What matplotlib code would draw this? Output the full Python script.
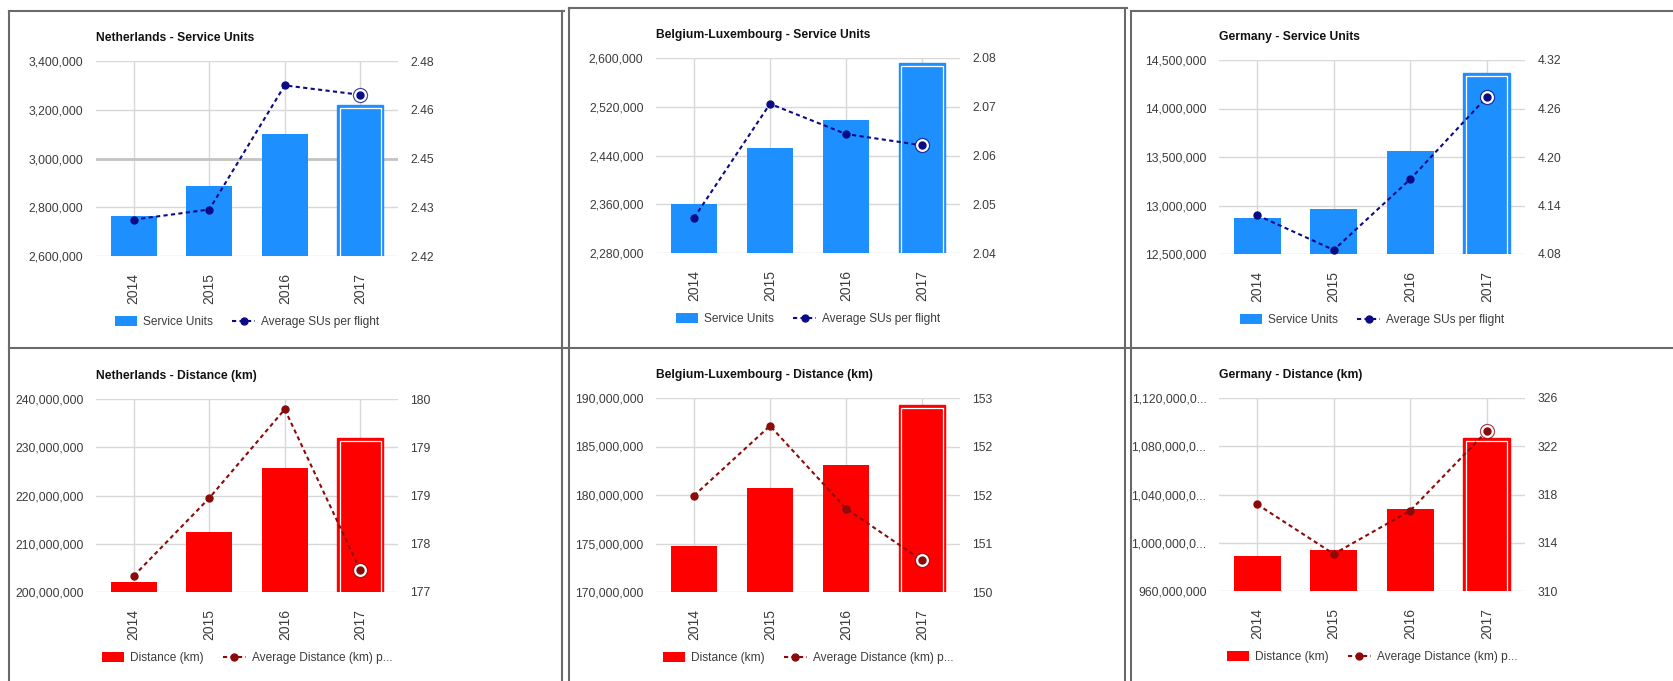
import numpy as np
import matplotlib
matplotlib.use('Agg')
import matplotlib.pyplot as plt
from matplotlib.lines import Line2D
from matplotlib.patches import Patch
from matplotlib import font_manager

W, H = 1673, 681

# values
years = ['2014', '2015', '2016', '2017']

nl_su = [2763000, 2888000, 3100000, 3218000]
nl_su_avg = [2.4312, 2.4343, 2.4725, 2.4696]
be_su = [2360000, 2453000, 2499000, 2592000]
be_su_avg = [2.0472, 2.0706, 2.0644, 2.0621]
de_su = [12875000, 12968000, 13557000, 14369000]
de_su_avg = [4.128, 4.085, 4.1725, 4.274]

nl_km = [202000000, 212340000, 225800000, 231860000]
nl_km_avg = [177.25, 178.46, 179.84, 177.34]
be_km = [174760000, 180750000, 183080000, 189250000]
be_km_avg = [151.49, 152.57, 151.29, 150.49]
de_km = [988700000, 993700000, 1028000000, 1086800000]
de_km_avg = [317.18, 313.07, 316.66, 323.24]

# axis tick labels as google charts printed them
nl_su_left = ['2,600,000', '2,800,000', '3,000,000', '3,200,000', '3,400,000']
nl_su_right = ['2.42', '2.43', '2.45', '2.46', '2.48']
be_su_left = ['2,280,000', '2,360,000', '2,440,000', '2,520,000', '2,600,000']
be_su_right = ['2.04', '2.05', '2.06', '2.07', '2.08']
de_su_left = ['12,500,000', '13,000,000', '13,500,000', '14,000,000', '14,500,000']
de_su_right = ['4.08', '4.14', '4.20', '4.26', '4.32']
nl_km_left = ['200,000,000', '210,000,000', '220,000,000', '230,000,000', '240,000,000']
nl_km_right = ['177', '178', '179', '179', '180']
be_km_left = ['170,000,000', '175,000,000', '180,000,000', '185,000,000', '190,000,000']
be_km_right = ['150', '151', '152', '152', '153']
de_km_left = ['960,000,000', '1,000,000,0...', '1,040,000,0...', '1,080,000,0...', '1,120,000,0...']
de_km_right = ['310', '314', '318', '322', '326']

# pick a narrow sans if there is one (the screenshot looks squeezed)
names = {f.name for f in font_manager.fontManager.ttflist}
if 'Liberation Sans Narrow' in names:
    FAM = 'Liberation Sans Narrow'
    fs_title, fs_tick, fs_year, fs_leg = 10.4, 10.2, 10.2, 10.2
else:
    FAM = 'Liberation Sans'
    fs_title, fs_tick, fs_year, fs_leg = 8.7, 8.7, 10, 8.6
plt.rcParams['font.family'] = [FAM, 'DejaVu Sans']

BLUE, NAVY = '#1e8fff', '#0b0b85'
RED, DRED = '#ff0000', '#8b0a0a'
GRID = '#d8d8d8'
TXT = '#3c3c3c'

fig = plt.figure(figsize=(W / 100, H / 100), dpi=100)


def draw_panel(box, title, bars, avg, lim_l, lab_l, lim_r, lab_r,
               bcol, lcol, bname, lname, dark=None):
    L, T, R, B = box
    ax = fig.add_axes([L / W, 1 - B / H, (R - L) / W, (B - T) / H])
    x = np.arange(len(years))
    ax.bar(x[:-1], bars[:-1], width=0.61, color=bcol, zorder=2)
    # last bar is drawn "selected" like in the screenshot
    ax.bar(x[-1], bars[-1], width=0.61, color=bcol, edgecolor=bcol,
           lw=1, zorder=2)
    inset = 0.016 * (lim_l[1] - lim_l[0])
    ax.bar(x[-1], bars[-1] - inset, width=0.54, fill=False,
           edgecolor='white', lw=0.9, zorder=3)
    ax.set_xlim(-0.5, len(years) - 0.5)
    ax.set_ylim(lim_l)
    ax.set_yticks(np.linspace(lim_l[0], lim_l[1], len(lab_l)))
    ax.set_yticklabels(lab_l)
    ax.set_xticks(x)
    ax.set_xticklabels(years, rotation=90, fontsize=fs_year, va='top')
    ax.grid(True, color=GRID, lw=1.0)
    if dark is not None:
        ax.axhline(dark, color='#c4c4c4', lw=2.0, zorder=1)
    ax.set_axisbelow(True)
    ax.tick_params(axis='y', length=0, colors=TXT, labelsize=fs_tick, pad=9)
    ax.tick_params(axis='x', length=0, colors=TXT, pad=12)
    for s in ax.spines.values():
        s.set_visible(False)

    ax2 = ax.twinx()
    ls = (0, (2, 1.6))
    ax2.plot(x, avg, color=lcol, lw=1.5, ls=ls, marker='o', ms=5, zorder=4)
    ax2.plot(x[-1], avg[-1], 'o', ms=10, mfc='white', mec=lcol, mew=1.0,
             alpha=0.75, zorder=5)
    ax2.plot(x[-1], avg[-1], 'o', ms=8, mfc='white', mec='white', zorder=5)
    ax2.plot(x[-1], avg[-1], 'o', ms=5, color=lcol, zorder=6)
    ax2.set_ylim(lim_r)
    ax2.set_yticks(np.linspace(lim_r[0], lim_r[1], len(lab_r)))
    ax2.set_yticklabels(lab_r)
    ax2.tick_params(axis='y', length=0, colors=TXT, labelsize=fs_tick, pad=9)
    for s in ax2.spines.values():
        s.set_visible(False)

    hgt = B - T
    ax.text(0, 1 + 23 / hgt, title, transform=ax.transAxes, ha='left',
            va='center', fontsize=fs_title, fontweight='bold', color='#111111')

    handles = [Patch(facecolor=bcol, edgecolor='none'),
               Line2D([], [], color=lcol, lw=1.5, ls=ls, marker='o', ms=5)]
    ax.legend(handles, [bname, lname], loc='center',
              bbox_to_anchor=(0.5, -66 / hgt), ncol=2, frameon=False,
              handlelength=1.9, handleheight=1.0, handletextpad=0.5,
              columnspacing=1.6, fontsize=fs_leg, labelcolor=TXT)
    return ax


draw_panel((96, 61, 398, 256), 'Netherlands - Service Units', nl_su, nl_su_avg,
           (2600000, 3400000), nl_su_left, (2.42, 2.48), nl_su_right,
           BLUE, NAVY, 'Service Units', 'Average SUs per flight', dark=3000000)
draw_panel((656, 58, 960, 253), 'Belgium-Luxembourg - Service Units', be_su, be_su_avg,
           (2280000, 2600000), be_su_left, (2.04, 2.08), be_su_right,
           BLUE, NAVY, 'Service Units', 'Average SUs per flight')
draw_panel((1219, 60, 1525, 254), 'Germany - Service Units', de_su, de_su_avg,
           (12500000, 14500000), de_su_left, (4.08, 4.32), de_su_right,
           BLUE, NAVY, 'Service Units', 'Average SUs per flight')
draw_panel((96, 399, 398, 592), 'Netherlands - Distance (km)', nl_km, nl_km_avg,
           (200000000, 240000000), nl_km_left, (177, 180), nl_km_right,
           RED, DRED, 'Distance (km)', 'Average Distance (km) p...')
draw_panel((656, 398, 960, 592), 'Belgium-Luxembourg - Distance (km)', be_km, be_km_avg,
           (170000000, 190000000), be_km_left, (150, 153), be_km_right,
           RED, DRED, 'Distance (km)', 'Average Distance (km) p...')
draw_panel((1219, 398, 1525, 591), 'Germany - Distance (km)', de_km, de_km_avg,
           (960000000, 1120000000), de_km_left, (310, 326), de_km_right,
           RED, DRED, 'Distance (km)', 'Average Distance (km) p...')

# the dashboard frame lines (pixel coords from the screenshot)
frame = [((9, 11), (9, 681)), ((9, 11), (564, 11)), ((562, 11), (562, 681)),
         ((569, 8), (569, 681)), ((569, 8), (1127, 8)), ((1125, 8), (1125, 681)),
         ((1131, 11), (1131, 681)), ((1131, 11), (1673, 11)),
         ((9, 347.5), (1673, 347.5))]
for (x0, y0), (x1, y1) in frame:
    fig.add_artist(Line2D([x0 / W, x1 / W], [1 - y0 / H, 1 - y1 / H],
                          transform=fig.transFigure, color='#6a6a6a', lw=1.5))

fig.savefig('out.png', dpi=100)
